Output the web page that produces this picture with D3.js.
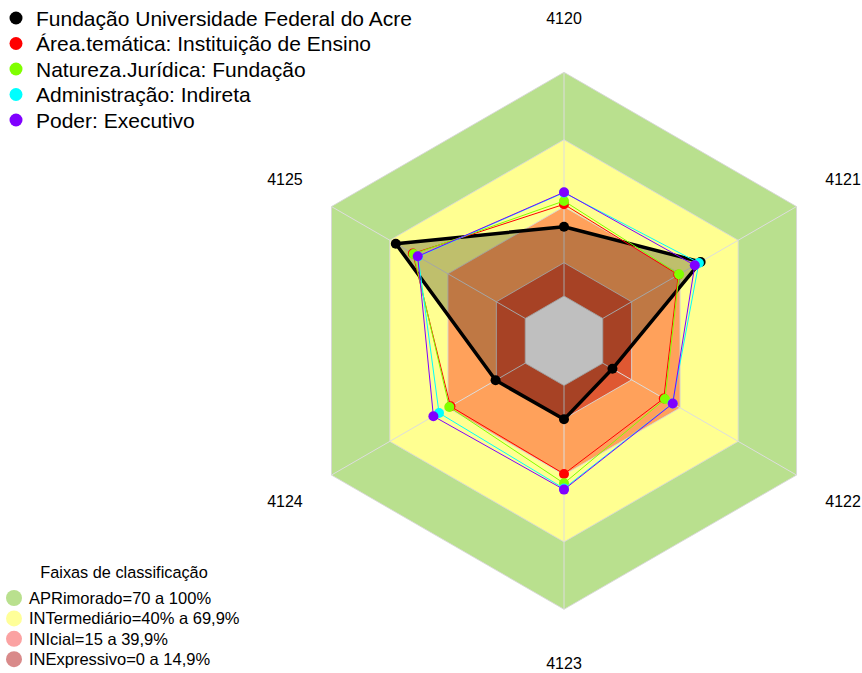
<!DOCTYPE html>
<html>
<head>
<meta charset="utf-8">
<script src="https://cdn.jsdelivr.net/npm/d3@7"></script>
<style>
  html, body { margin: 0; padding: 0; background: #fff; }
  svg { display: block; font-family: "Liberation Sans", Arial, sans-serif; }
</style>
</head>
<body>
<svg id="chart" width="862" height="673"></svg>
<script>
// ---------- data ----------
const axes = ["4120", "4121", "4122", "4123", "4124", "4125"];

const seriesNames = [
  "Fundação Universidade Federal do Acre",
  "Área.temática: Instituição de Ensino",
  "Natureza.Jurídica: Fundação",
  "Administração: Indireta",
  "Poder: Executivo"
];
const seriesColors = ["#000000", "#FF0000", "#80FF00", "#00FFFF", "#8000FF"];

const valuesFundacao   = [31.0, 50.5, 5.0, 15.1, 15.3, 66.8];
const valuesArea       = [41.0, 39.0, 31.5, 39.5, 38.6, 58.0];
const valuesNatureza   = [42.5, 39.4, 32.1, 43.7, 39.2, 57.6];
const valuesAdmin      = [46.2, 49.6, 36.0, 46.0, 44.5, 55.3];
const valuesPoder      = [46.4, 47.5, 36.1, 46.5, 47.4, 55.5];
const seriesValues = [valuesFundacao, valuesArea, valuesNatureza, valuesAdmin, valuesPoder];

const bandNames = [
  "APRimorado=70 a 100%",
  "INTermediário=40% a 69,9%",
  "INIcial=15 a 39,9%",
  "INExpressivo=0 a 14,9%"
];
const bandLimits = [100, 69.9, 39.9, 14.9];
const bandFills = ["#B9E08E", "#FFFF91", "rgba(255,0,0,0.37)", "rgba(185,0,0,0.45)"];
const bandLegendFills = ["#B9E08E", "#FFFF99", "#FBA2A2", "#D98A8A"];
const legendTitle = "Faixas de classificação";

// ---------- layout ----------
const svg = d3.select("#chart");
const cx = 564, cy = 340.8, R = 268.5;
const hole = R / 6;
const r = d3.scaleLinear().domain([0, 100]).range([hole, R]);
const angle = d3.scaleLinear().domain([0, axes.length]).range([Math.PI / 2, Math.PI / 2 - 2 * Math.PI]);

function pt(i, v) {
  const a = angle(i), rr = r(v);
  return [cx + rr * Math.cos(a), cy - rr * Math.sin(a)];
}
function ringPts(v) { return axes.map((d, i) => pt(i, v)); }
const line = d3.line().curve(d3.curveLinearClosed);

// bands
const g = svg.append("g");
bandLimits.forEach((lim, k) => {
  g.append("path")
    .attr("d", line(ringPts(lim)))
    .attr("fill", bandFills[k])
    .attr("stroke", "rgba(215,215,215,0.9)")
    .attr("stroke-width", 1);
});
// center hole
g.append("path").attr("d", line(ringPts(0)))
  .attr("fill", "#ffffff").attr("stroke", "rgba(215,215,215,0.9)").attr("stroke-width", 1);

// axis lines
axes.forEach((a, i) => {
  const p0 = pt(i, 0), p1 = pt(i, 100);
  g.append("line").attr("x1", p0[0]).attr("y1", p0[1]).attr("x2", p1[0]).attr("y2", p1[1])
    .attr("stroke", "#DDDDDD").attr("stroke-width", 1);
});

// axis labels
axes.forEach((a, i) => {
  const ang = angle(i), rr = R * 1.2;
  svg.append("text")
    .attr("x", cx + rr * Math.cos(ang))
    .attr("y", cy - rr * Math.sin(ang))
    .attr("text-anchor", "middle")
    .attr("dominant-baseline", "central")
    .attr("font-size", 16)
    .attr("fill", "#000")
    .text(a);
});

// series
seriesValues.forEach((vals, s) => {
  const pts = vals.map((v, i) => pt(i, v));
  const isMain = s === 0;
  g.append("path")
    .attr("d", line(pts))
    .attr("fill", isMain ? "rgba(0,0,0,0.25)" : "none")
    .attr("stroke", seriesColors[s])
    .attr("stroke-width", isMain ? 3.5 : 1)
    .attr("stroke-linejoin", "round");
  pts.forEach(p => {
    g.append("circle").attr("cx", p[0]).attr("cy", p[1]).attr("r", 5)
      .attr("fill", seriesColors[s]);
  });
});

// top legend
const lg = svg.append("g");
seriesNames.forEach((name, k) => {
  const y = 18 + k * 25.5;
  lg.append("circle").attr("cx", 16).attr("cy", y).attr("r", 6.5).attr("fill", seriesColors[k]);
  lg.append("text").attr("x", 36).attr("y", y + 7.5).attr("font-size", 21).attr("fill", "#000").text(name);
});

// bottom legend
const bl = svg.append("g");
bl.append("text").attr("x", 124).attr("y", 577.5).attr("text-anchor", "middle")
  .attr("font-size", 16.3).attr("fill", "#000").text(legendTitle);
bandNames.forEach((name, k) => {
  const y = 598 + k * 20.4;
  bl.append("circle").attr("cx", 14).attr("cy", y).attr("r", 8).attr("fill", bandLegendFills[k]);
  bl.append("text").attr("x", 29).attr("y", y + 5.8).attr("font-size", 16.5).attr("fill", "#000").text(name);
});
</script>
</body>
</html>
